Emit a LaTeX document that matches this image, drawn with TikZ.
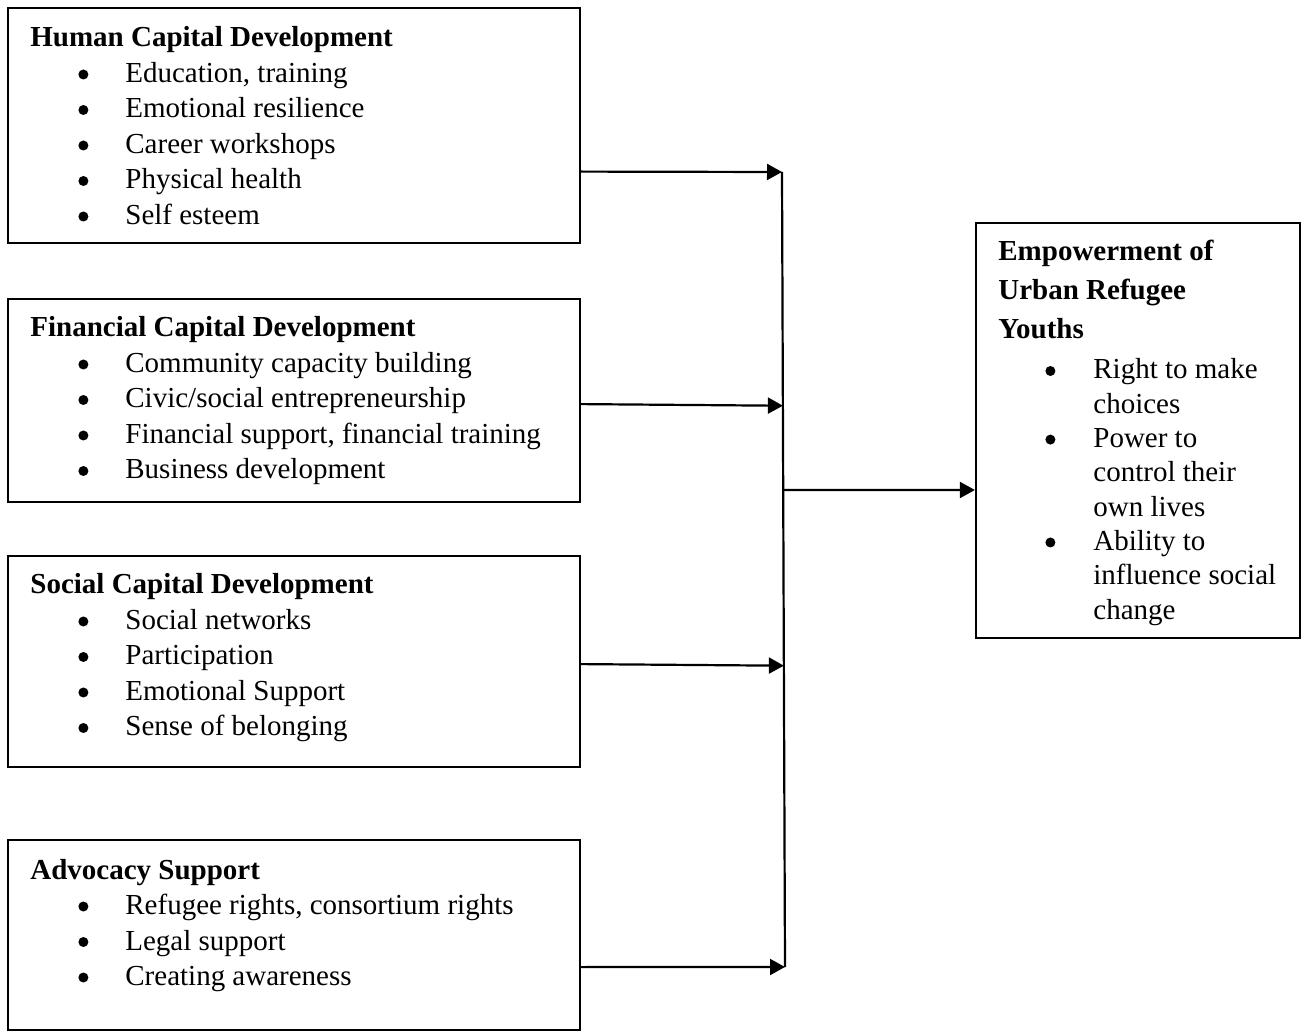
\documentclass[tikz,border=0pt]{standalone}
\usepackage{fontspec}
\setmainfont{Liberation Serif}
\usetikzlibrary{arrows.meta,calc}

% round list mark, centred 4pt above the baseline
\newcommand{\dotmark}{\tikz[baseline=0pt]\fill (0pt,4pt) circle (2.5pt);}
% bullet lines: left boxes and the outcome box
\newcommand{\bitem}[1]{\makebox[47.5pt][l]{\hspace*{24pt}\dotmark}#1}
\newcommand{\ritem}[1]{\makebox[47.5pt][l]{\hspace*{23.5pt}\dotmark}#1}
\newcommand{\rcont}[1]{\hspace*{47.5pt}#1}

\begin{document}
\begin{tikzpicture}[x=0.5pt,y=-0.5pt,
  box/.style={draw, line width=1.1pt, rectangle, inner sep=0pt},
  txt/.style={anchor=base west, inner sep=0pt, font=\fontsize{14.5}{17.75}\selectfont},
  rtxt/.style={anchor=base west, inner sep=0pt, font=\fontsize{14.5}{17.15}\selectfont},
  link/.style={line width=1.1pt, -{Triangle[length=7.5pt,width=8pt]}},
  spine/.style={line width=1.1pt}]
\useasboundingbox (0,0) rectangle (1303,1032);

% capital boxes
\node[box, minimum width=286pt, minimum height=117.5pt] (hc) at (294,125.5) {};
\node[box, minimum width=286pt, minimum height=101.5pt] (fc) at (294,400.5) {};
\node[box, minimum width=286pt, minimum height=105.5pt] (sc) at (294,661.5) {};
\node[box, minimum width=286pt, minimum height=95pt]    (as) at (294,935) {};
% outcome box
\node[box, minimum width=162pt, minimum height=207.5pt] (emp) at (1138,430.5) {};

% box texts
\node[txt] (hct) at (30,47) {\parbox[t]{280pt}{%
  \textbf{Human Capital Development}\\
  \bitem{Education, training}\\
  \bitem{Emotional resilience}\\
  \bitem{Career workshops}\\
  \bitem{Physical health}\\
  \bitem{Self esteem}}};
\node[txt] (fct) at (30,337) {\parbox[t]{280pt}{%
  \textbf{Financial Capital Development}\\
  \bitem{Community capacity building}\\
  \bitem{Civic/social entrepreneurship}\\
  \bitem{Financial support, financial training}\\
  \bitem{Business development}}};
\node[txt] (sct) at (30,594) {\parbox[t]{280pt}{%
  \textbf{Social Capital Development}\\
  \bitem{Social networks}\\
  \bitem{Participation}\\
  \bitem{Emotional Support}\\
  \bitem{Sense of belonging}}};
\node[txt] (ast) at (30,879) {\parbox[t]{280pt}{%
  \textbf{Advocacy Support}\\
  \bitem{Refugee rights, consortium rights}\\
  \bitem{Legal support}\\
  \bitem{Creating awareness}}};
\node[rtxt] (empt) at (998,261) {\parbox[t]{150pt}{%
  \textbf{Empowerment of}\\[2.35pt]
  \textbf{Urban Refugee}\\[2.35pt]
  \textbf{Youths}\\[2.85pt]
  \ritem{Right to make}\\
  \rcont{choices}\\
  \ritem{Power to}\\
  \rcont{control their}\\
  \rcont{own lives}\\
  \ritem{Ability to}\\
  \rcont{influence social}\\
  \rcont{change}}};

% collecting line
\coordinate (j1) at (782,172);
\coordinate (j4) at (785,967);
\coordinate (j2) at ($(j1)!0.294!(j4)$);
\coordinate (jm) at ($(j1)!0.400!(j4)$);
\coordinate (j3) at ($(j1)!0.621!(j4)$);
\draw[spine] (j1) -- (j4);

% connectors
\draw[link] ([yshift=36.25pt]hc.south east) -- (j1);
\draw[link] ([yshift=49.5pt]fc.south east) -- (j2);
\draw[link] ([yshift=52pt]sc.south east) -- (j3);
\draw[link] ([yshift=32pt]as.south east) -- (j4);
\draw[link] (jm) -- ([yshift=-29.75pt]emp.west);
\end{tikzpicture}
\end{document}
